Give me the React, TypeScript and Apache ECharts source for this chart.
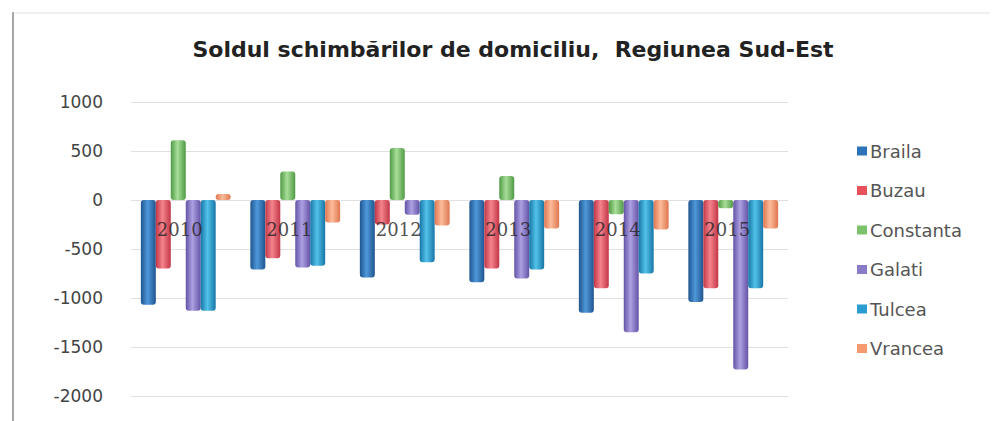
import React, { useEffect, useRef } from "react";
import * as echarts from "echarts";

const years = ["2010", "2011", "2012", "2013", "2014", "2015"];
const regions = ["Braila", "Buzau", "Constanta", "Galati", "Tulcea", "Vrancea"];
const braila = [-1070, -710, -790, -840, -1150, -1040];
const buzau = [-700, -595, -250, -700, -900, -900];
const constanta = [610, 290, 530, 245, -145, -85];
const galati = [-1130, -690, -150, -800, -1350, -1730];
const tulcea = [-1130, -670, -635, -710, -750, -900];
const vrancea = [60, -230, -260, -290, -300, -290];
const yTicks = [-2000, -1500, -1000, -500, 0, 500, 1000];

const seriesValues = [braila, buzau, constanta, galati, tulcea, vrancea];
const palette = [
  ["#1f558f", "#4f98da", "#2d73b8"],
  ["#c23646", "#f5838d", "#e8505b"],
  ["#4f9a45", "#a8de98", "#7cc26a"],
  ["#6453a6", "#ada0e2", "#8a7bc6"],
  ["#1876a6", "#52c2ea", "#2a9ccf"],
  ["#df7650", "#fcbc9a", "#f59a70"],
];

export default function App() {
  const ref = useRef<HTMLDivElement>(null);
  useEffect(() => {
    if (!ref.current) return;
    const chart = echarts.init(ref.current, null, { renderer: "svg" });
    const series: any[] = regions.map((name, i) => ({
      name,
      type: "bar",
      data: seriesValues[i],
      barGap: "0%",
      barCategoryGap: "18%",
      z: 2,
      itemStyle: {
        color: new echarts.graphic.LinearGradient(0, 0, 1, 0, [
          { offset: 0, color: palette[i][0] },
          { offset: 0.45, color: palette[i][1] },
          { offset: 1, color: palette[i][0] },
        ]),
        borderRadius: 3,
      },
    }));
    // year labels sitting just below the zero line, above the bars
    series.push({
      name: "years",
      type: "scatter",
      data: years.map((y) => ({ name: y, value: [y, 0] })),
      symbolSize: 1,
      itemStyle: { color: "rgba(0,0,0,0)" },
      z: 10,
      silent: true,
      label: {
        show: true,
        position: "inside",
        offset: [-6, 29],
        formatter: "{b}",
        fontFamily: "DejaVu Serif",
        fontSize: 18,
        color: "#222",
      },
    });
    chart.setOption({
      animation: false,
      backgroundColor: "#ffffff",
      title: {
        text: "Soldul schimbărilor de domiciliu,  Regiunea Sud-Est",
        left: 508,
        top: 33,
        textAlign: "center",
        textStyle: {
          fontFamily: "DejaVu Sans",
          fontWeight: "bold",
          fontSize: 22,
          color: "#222",
        },
      },
      legend: {
        orient: "vertical",
        left: 852,
        top: 137,
        itemWidth: 10,
        itemHeight: 9,
        itemGap: 21.5,
        icon: "rect",
        data: regions.map((name, i) => ({ name, itemStyle: { color: palette[i][2] } })),
        textStyle: {
          fontFamily: "DejaVu Sans",
          fontSize: 18,
          color: "#555",
          padding: [0, 0, 0, -2],
        },
      },
      grid: { left: 131, right: 210, top: 102, bottom: 25 },
      xAxis: {
        type: "category",
        data: years,
        axisLine: { show: false },
        axisTick: { show: false },
        axisLabel: { show: false },
      },
      yAxis: {
        type: "value",
        min: yTicks[0],
        max: yTicks[yTicks.length - 1],
        interval: 500,
        axisLine: { show: false },
        axisTick: { show: false },
        splitLine: { lineStyle: { color: "#e0e0e0", width: 1 } },
        axisLabel: {
          margin: 28,
          fontFamily: "DejaVu Sans",
          fontSize: 17,
          color: "#444",
          formatter: (v: number) => String(v),
        },
      },
      graphic: [
        { type: "line", shape: { x1: 13, y1: 12, x2: 13, y2: 421 }, style: { stroke: "#8a8a8a", lineWidth: 1.5 } },
        { type: "line", shape: { x1: 15, y1: 13, x2: 990, y2: 13 }, style: { stroke: "#e2e2e2", lineWidth: 1 } },
      ],
      series,
    });
    return () => chart.dispose();
  }, []);
  return (
    <div
      ref={ref}
      style={{ position: "fixed", left: 0, top: 0, width: 998, height: 421 }}
    />
  );
}
